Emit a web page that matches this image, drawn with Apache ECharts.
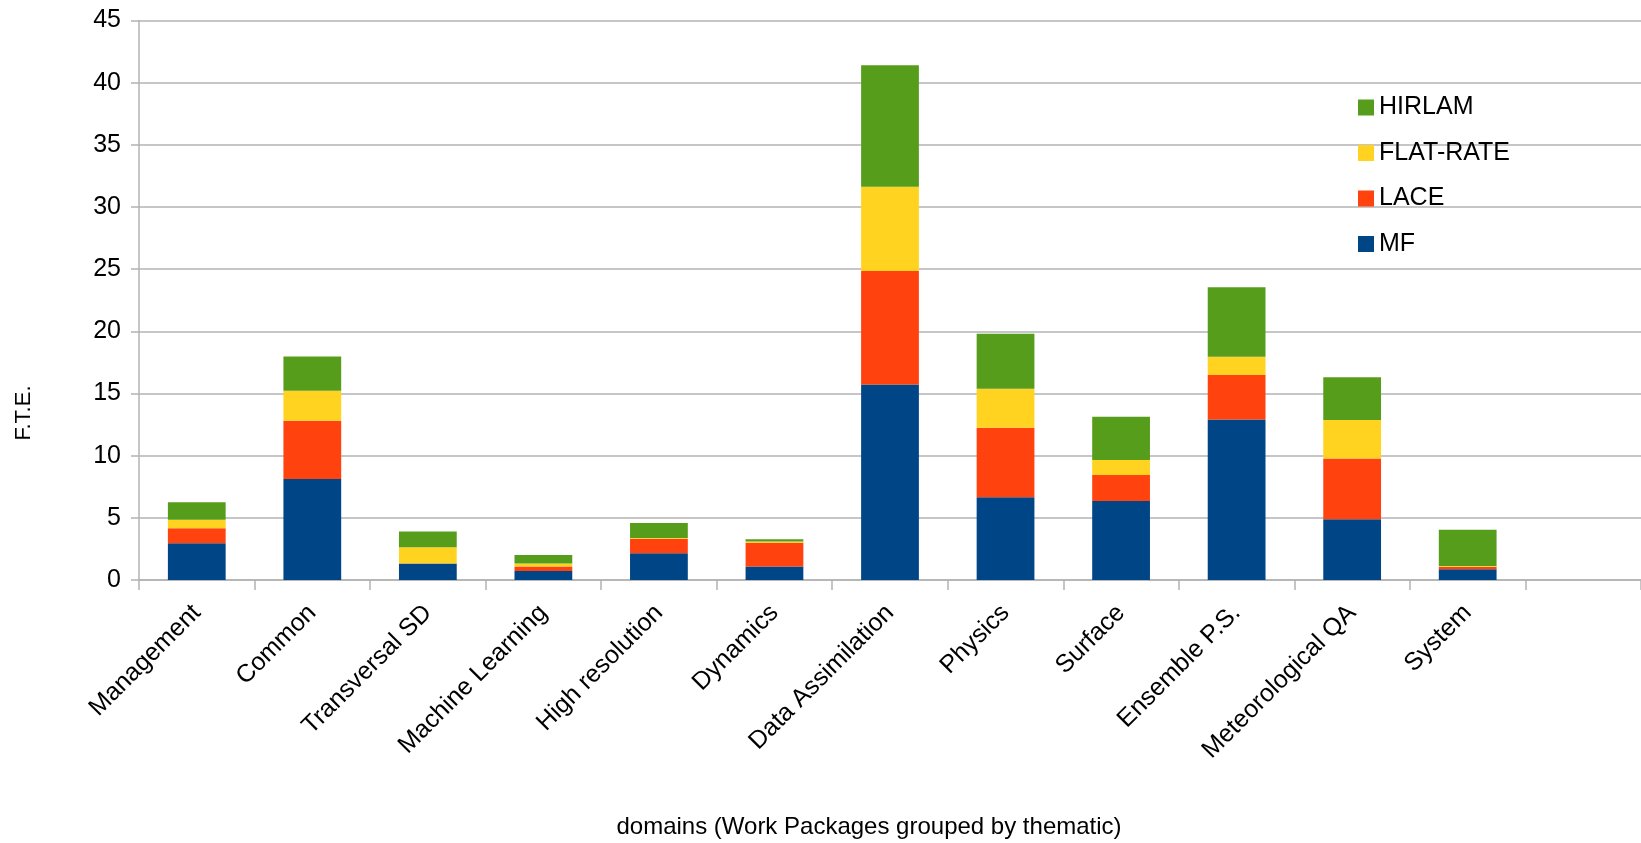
<!DOCTYPE html>
<html>
<head>
<meta charset="utf-8">
<script src="https://cdn.jsdelivr.net/npm/echarts@6/dist/echarts.min.js"></script>
<style>
html,body{margin:0;padding:0;background:#fff;}
#chart{width:1641px;height:843px;}
</style>
</head>
<body>
<div id="chart"></div>
<script>
const categories = ['Management','Common','Transversal SD','Machine Learning','High resolution','Dynamics','Data Assimilation','Physics','Surface','Ensemble P.S.','Meteorological QA','System',''];
const MF       = [2.96, 8.12, 1.33, 0.73, 2.15, 1.09, 15.73, 6.66, 6.35, 12.91, 4.89, 0.87];
const LACE     = [1.21, 4.69, 0.00, 0.36, 1.17, 1.90,  9.12, 5.58, 2.09,  3.57, 4.88, 0.20];
const FLATRATE = [0.67, 2.42, 1.31, 0.24, 0.05, 0.10,  6.77, 3.14, 1.21,  1.48, 3.09, 0.05];
const HIRLAM   = [1.41, 2.75, 1.27, 0.68, 1.22, 0.19,  9.79, 4.43, 3.47,  5.58, 3.44, 2.93];
const yTicks = [0,5,10,15,20,25,30,35,40,45];
const xTitle = 'domains (Work Packages grouped by thematic)';
const yTitle = 'F.T.E.';

const FONT = '"Liberation Sans", Arial, sans-serif';
const chart = echarts.init(document.getElementById('chart'), null, {renderer:'canvas'});
const mk = (name, data, color) => ({
  name, type:'bar', stack:'total', data, barWidth:'50%',
  itemStyle:{color}, emphasis:{disabled:true}
});
chart.setOption({
  animation:false,
  backgroundColor:'#ffffff',
  grid:{left:139, top:20.5, right:-12.5, bottom:263, containLabel:false},
  legend:{
    data:['HIRLAM','FLAT-RATE','LACE','MF'],
    orient:'vertical', left:1353, top:90,
    itemWidth:16, itemHeight:16, itemGap:20.5, icon:'rect',
    textStyle:{fontFamily:FONT, fontSize:25, color:'#000'},
    selectedMode:false
  },
  xAxis:{
    type:'category', data:categories,
    axisLine:{lineStyle:{color:'#b3b3b3', width:1.5}},
    axisTick:{show:true, interval:0, length:10, lineStyle:{color:'#b3b3b3', width:1.5}},
    axisLabel:{interval:0, rotate:45, margin:29, fontFamily:FONT, fontSize:25, color:'#000'},
    splitLine:{show:false}
  },
  yAxis:{
    type:'value', min:yTicks[0], max:yTicks[yTicks.length-1], interval:5,
    axisLine:{show:true, lineStyle:{color:'#b3b3b3', width:1.5}},
    axisTick:{show:true, length:8, lineStyle:{color:'#b3b3b3', width:1.5}},
    axisLabel:{margin:18, fontFamily:FONT, fontSize:25, color:'#000'},
    splitLine:{lineStyle:{color:'#b3b3b3', width:1.5}}
  },
  graphic:[
    {type:'text', x:869, y:827, style:{text:xTitle, fontFamily:FONT, fontSize:24, fill:'#000', textAlign:'center', textVerticalAlign:'middle'}},
    {type:'text', x:24, y:413, rotation:Math.PI/2, style:{text:yTitle, fontFamily:FONT, fontSize:22, fill:'#000', textAlign:'center', textVerticalAlign:'middle'}}
  ],
  series:[
    mk('MF', MF, '#004586'),
    mk('LACE', LACE, '#ff420e'),
    mk('FLAT-RATE', FLATRATE, '#ffd320'),
    mk('HIRLAM', HIRLAM, '#579d1c')
  ]
});
</script>
</body>
</html>
